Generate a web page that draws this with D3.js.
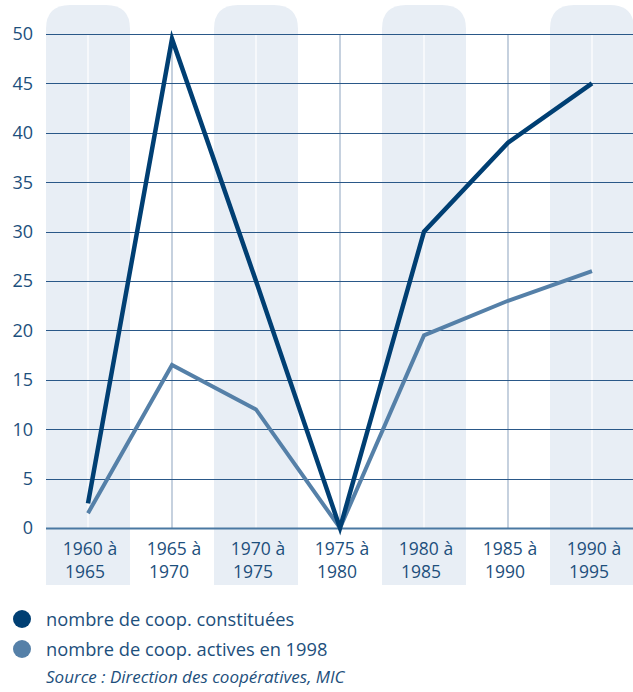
<!DOCTYPE html>
<html><head><meta charset="utf-8">
<script src="https://cdn.jsdelivr.net/npm/d3@7"></script>
<style>body{margin:0;background:#fff}svg{display:block}</style>
</head><body><svg id="c" width="633" height="692"></svg>
<script>
const categories = [["1960 à","1965"],["1965 à","1970"],["1970 à","1975"],["1975 à","1980"],["1980 à","1985"],["1985 à","1990"],["1990 à","1995"]];
const constituees = [2.5, 49.5, 25, 0, 30, 39, 45];
const actives = [1.5, 16.5, 12, 0, 19.5, 23, 26];
const yTicks = [0,5,10,15,20,25,30,35,40,45,50];
const seriesNames = ["nombre de coop. constituées","nombre de coop. actives en 1998"];
const source = "Source : Direction des coopératives, MIC";

const svg = d3.select("#c");
const font = "'Open Sans', sans-serif";
const txt = "#1d4f7c";
const x = d3.scaleBand().domain(d3.range(categories.length)).range([46, 634]).padding(0);
const y = d3.scaleLinear().domain([0,50]).range([528, 34]);

const g = svg.append("g");
categories.forEach((c,i)=>{
  if(i%2===0){
    const x0 = x(i), w = x.bandwidth(), top=5, bot=585, r=24;
    g.append("path").attr("fill","#e8eef5")
      .attr("d",`M${x0},${bot}V${top+r}Q${x0},${top} ${x0+r},${top}H${x0+w-r}Q${x0+w},${top} ${x0+w},${top+r}V${bot}Z`);
  }
});
categories.forEach((c,i)=>{
  const cx = x(i)+x.bandwidth()/2;
  g.append("line").attr("x1",cx).attr("x2",cx).attr("y1",y(50)).attr("y2",y(0))
    .attr("stroke", i%2===0 ? "#ffffff" : "#9fb2c9").attr("stroke-width",1.2);
});
yTicks.forEach(t=>{
  g.append("line").attr("x1",46).attr("x2",633).attr("y1",Math.round(y(t))+0.5).attr("y2",Math.round(y(t))+0.5)
    .attr("stroke", t===0 ? "#4a78a2" : "#2a5888").attr("stroke-width", t===0?2:1.2);
});
yTicks.forEach(t=>{
  svg.append("text").attr("x",33).attr("y",y(t)).attr("dy","0.36em").attr("text-anchor","end")
    .attr("font-family",font).attr("font-size",18).attr("fill",txt).text(t);
});
categories.forEach((c,i)=>{
  const cx = x(i)+x.bandwidth()/2;
  const t = svg.append("text").attr("text-anchor","middle").attr("font-family",font).attr("font-size",17.5).attr("fill",txt);
  t.append("tspan").attr("x",cx+2).attr("y",555).text(c[0]);
  t.append("tspan").attr("x",cx-3).attr("y",578).text(c[1]);
});
const line = d3.line().x((d,i)=>x(i)+x.bandwidth()/2).y(d=>y(d));
svg.append("path").datum(actives).attr("d",line).attr("fill","none").attr("stroke","#5580a8").attr("stroke-width",4).attr("stroke-linejoin","miter");
svg.append("path").datum(constituees).attr("d",line).attr("fill","none").attr("stroke","#003f73").attr("stroke-width",4.5).attr("stroke-linejoin","miter");

const lc = ["#003f73","#5580a8"];
seriesNames.forEach((n,i)=>{
  svg.append("circle").attr("cx",22).attr("cy",619+i*30).attr("r",9).attr("fill",lc[i]);
  svg.append("text").attr("x",46).attr("y",626+i*30).attr("font-family",font).attr("font-size",18.3).attr("fill",txt).text(n);
});
svg.append("text").attr("x",46).attr("y",683).attr("font-family",font).attr("font-size",17).attr("font-style","italic").attr("fill",txt).text(source);
</script></body></html>
